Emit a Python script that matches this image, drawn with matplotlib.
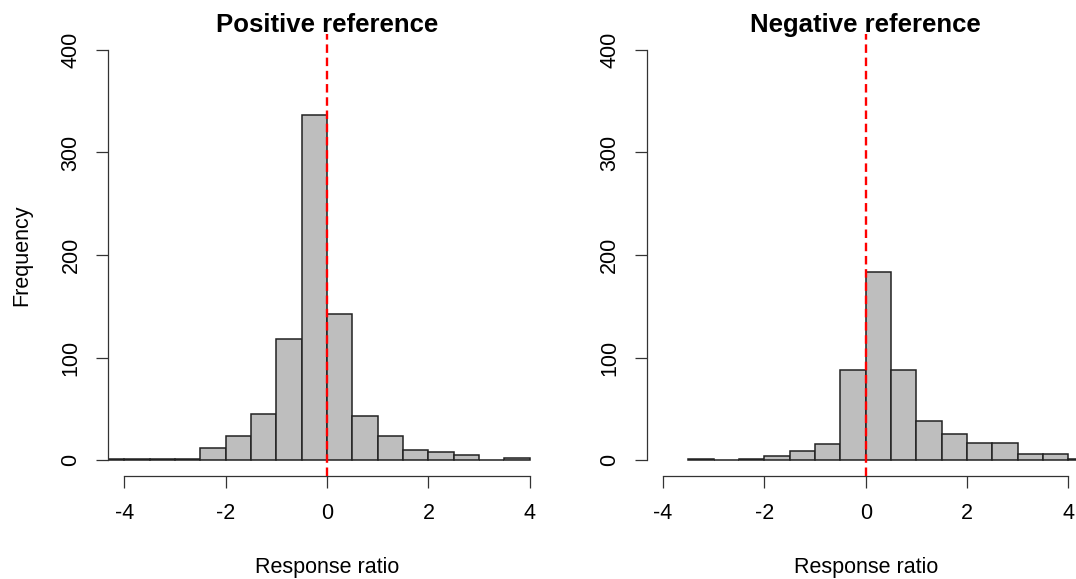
import numpy as np
import matplotlib
matplotlib.use("Agg")
import matplotlib.pyplot as plt

plt.rcParams['font.family'] = ['Liberation Sans', 'DejaVu Sans']

# ---- data ----
bin_width = 0.5
pos_edges_start = -4.5
pos_counts = [1, 1, 1, 1, 12, 23, 45, 118, 337, 142, 43, 23, 10, 8, 5, 0, 2]
neg_edges_start = -3.5
neg_counts = [1, 0, 1, 4, 9, 16, 88, 183, 88, 38, 25, 17, 17, 6, 6, 1]
titles = ["Positive reference", "Negative reference"]
x_ticks = [-4, -2, 0, 2, 4]
y_ticks = [0, 100, 200, 300, 400]
x_label = "Response ratio"
y_label = "Frequency"
ref_line = 0

W, H = 1076, 579
fig = plt.figure(figsize=(W / 100, H / 100), dpi=100)

ax_h = 442.8 / H
ax_w = 438 / W
ax_b = (H - 476.4) / H
ax1 = fig.add_axes([108 / W, ax_b, ax_w, ax_h])
ax2 = fig.add_axes([646.7 / W, ax_b, ax_w, ax_h])

FS = 15.5
axis_col = '#333333'

for ax, start, counts, title in [(ax1, pos_edges_start, pos_counts, titles[0]),
                                  (ax2, neg_edges_start, neg_counts, titles[1])]:
    counts = np.asarray(counts, dtype=float)
    lefts = start + bin_width * np.arange(len(counts))
    ax.bar(lefts, counts, width=bin_width, align='edge', color='#BEBEBE',
           edgecolor='#222222', linewidth=1.1, zorder=2)
    ax.axvline(ref_line, color='#FF0000', lw=1.7, ls=(0, (3.6, 2.0)),
               solid_capstyle='butt', dash_capstyle='butt', zorder=3)
    ax.set_xlim(-4.32, 4.32)
    ax.set_ylim(-16, 416)
    for s in ['top', 'right']:
        ax.spines[s].set_visible(False)
    for s in ['left', 'bottom']:
        ax.spines[s].set_color(axis_col)
        ax.spines[s].set_linewidth(0.9)
    ax.spines['left'].set_bounds(0, 400)
    ax.spines['bottom'].set_bounds(-4, 4)
    ax.set_xticks(x_ticks)
    ax.set_xticklabels([str(t) for t in x_ticks])
    ax.set_yticks(y_ticks)
    ax.set_yticklabels([str(t) for t in y_ticks], rotation=90, va='center')
    ax.tick_params(axis='both', direction='out', length=8.6, width=0.9,
                   color=axis_col, labelsize=FS)
    ax.tick_params(axis='x', pad=10.5)
    ax.tick_params(axis='y', pad=10.5)
    ax.patch.set_visible(False)
    ax.text(0.5, 1.004, title, transform=ax.transAxes, ha='center',
            va='baseline', fontsize=18.5, fontweight='bold')
    ax.text(0.5, (476.4 - 573.5) / 442.8, x_label, transform=ax.transAxes,
            ha='center', va='baseline', fontsize=FS)

fig.text(22 / W, 1 - 255 / H, y_label, rotation=90, ha='center', va='center',
         fontsize=FS)

fig.savefig("out.png", dpi=100)
